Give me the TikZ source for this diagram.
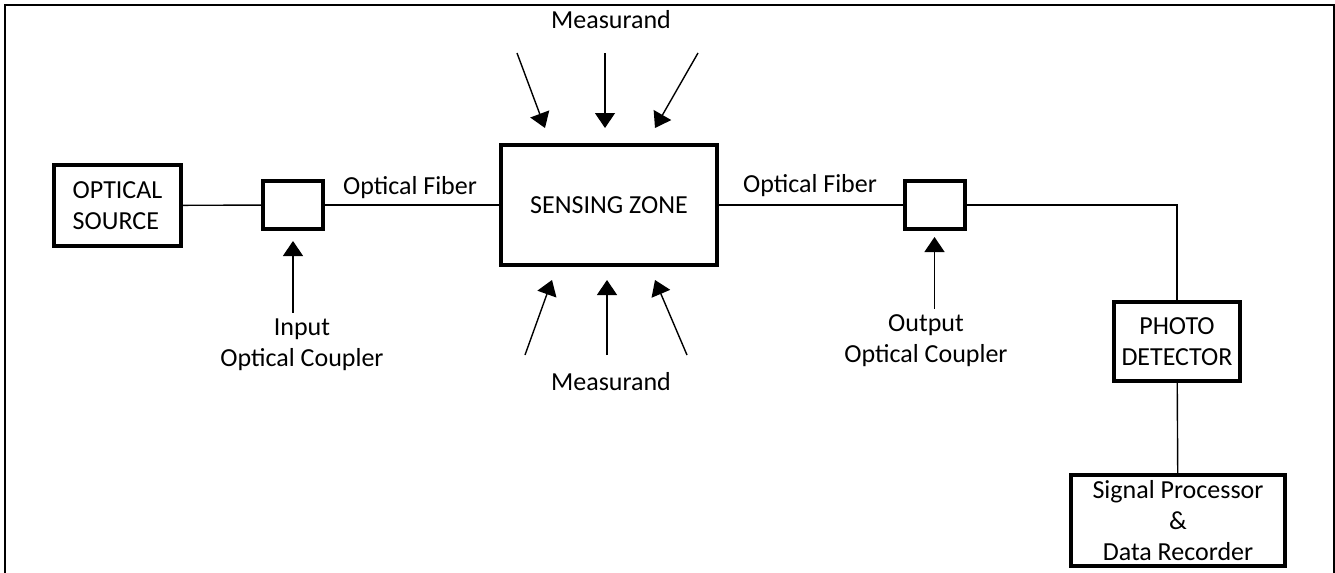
\documentclass[tikz,border=0pt]{standalone}
\usepackage{fontspec}
\setmainfont{Carlito}
\usetikzlibrary{arrows.meta}

\begin{document}
\begin{tikzpicture}[
  x=0.5pt, y=-0.5pt,
  font=\fontsize{13pt}{15.5pt}\selectfont,
  blk/.style={draw, line width=2pt, inner sep=0pt, align=center},
  cpl/.style={draw, line width=2pt, minimum width=30pt, minimum height=24pt},
  lbl/.style={inner sep=1pt, align=center},
  lk/.style={draw, line width=0.7pt},
  meas/.style={line width=0.7pt, -{Triangle[width=10pt, length=7.5pt]}}
]
  \useasboundingbox (0,0) rectangle (1335,573);
  % frame, open at the bottom
  \draw[line width=0.8pt] (5,573) -- (5,5) -- (1334,5) -- (1334,573);

  % main chain
  \node[blk, minimum width=63.5pt, minimum height=40.5pt, align=left] (src) at (117.5,205.5) {OPTICAL\\SOURCE};
  \node[cpl] (cin) at (293,205) {};
  \node[blk, minimum width=108pt, minimum height=60pt] (zone) at (609,205) {SENSING ZONE};
  \node[cpl] (cout) at (934.5,205) {};
  \node[blk, minimum width=63pt, minimum height=39.5pt] (pd) at (1177,341.5) {PHOTO\\DETECTOR};
  \node[blk, minimum width=107pt, minimum height=45.5pt] (sig) at (1178,520.5) {Signal Processor\\\&\\Data Recorder};

  \draw[lk] (src) -- (cin);
  \draw[lk] (cin) -- (zone);
  \draw[lk] (zone) -- (cout);
  \draw[lk] (cout.east) -| (pd.north);
  \draw[lk] (pd) -- (sig);

  \node[lbl] (fib1) at (410,188) {Optical Fiber};
  \node[lbl] (fib2) at (810,186) {Optical Fiber};

  % couplers
  \node[lbl] (inlbl) at (302,345) {Input\\Optical Coupler};
  \node[lbl] (outlbl) at (926,341) {Output\\Optical Coupler};
  \draw[meas, shorten <=2pt, shorten >=5pt] (inlbl.north -| cin) -- (cin.south);
  \draw[meas, shorten <=2pt, shorten >=3pt] (outlbl.north -| cout) -- (cout.south);

  % measurand arrows
  \node[lbl] (mtop) at (611,20) {Measurand};
  \node[lbl] (mbot) at (611,382) {Measurand};
  \foreach \nm/\tx/\hx in {a/517/545, b/605/605, c/698/655}
    {\coordinate (mt\nm) at (\tx,53);
     \coordinate (mh\nm) at (\hx,128);
     \draw[meas] (mt\nm) -- (mh\nm);}
  \foreach \nm/\tx/\hx in {a/525/552, b/607/607, c/687/655}
    {\coordinate (bt\nm) at (\tx,355);
     \coordinate (bh\nm) at (\hx,280);
     \draw[meas] (bt\nm) -- (bh\nm);}
\end{tikzpicture}
\end{document}
